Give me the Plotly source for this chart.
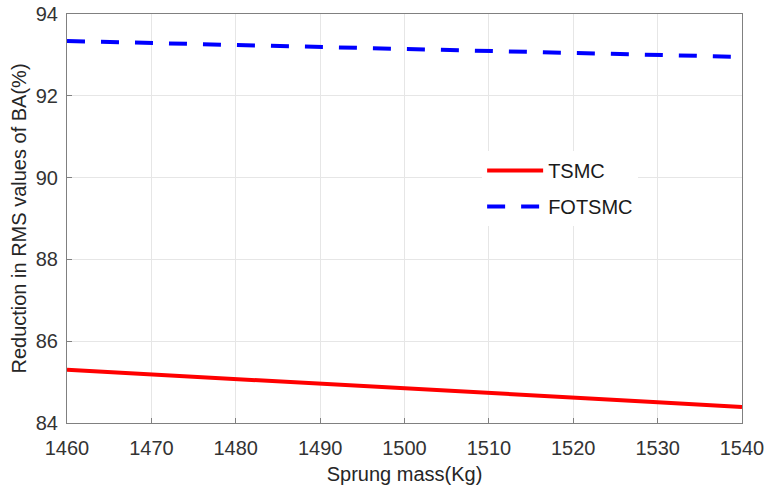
import plotly.graph_objects as go

mass = [1460, 1470, 1480, 1490, 1500, 1510, 1520, 1530, 1540]
tsmc = [85.30, 85.19, 85.08, 84.97, 84.86, 84.74, 84.62, 84.51, 84.39]
fotsmc = [93.34, 93.29, 93.24, 93.19, 93.14, 93.09, 93.04, 92.99, 92.95]
xticks = [1460, 1470, 1480, 1490, 1500, 1510, 1520, 1530, 1540]
yticks = [84, 86, 88, 90, 92, 94]

FONT = "Liberation Sans, Arial"

fig = go.Figure()
fig.add_trace(go.Scatter(x=mass, y=tsmc, mode="lines", name="TSMC", legendgroup="a",
                         line=dict(color="#ff0000", width=4)))
fig.add_trace(go.Scatter(x=mass, y=fotsmc, mode="lines", name="FOTSMC", legendgroup="b",
                         line=dict(color="#0000ff", width=4, dash="18px,16px")))

axis_common = dict(showline=True, linecolor="#808080", linewidth=1, mirror=True,
                   showgrid=True, gridcolor="#e6e6e6", gridwidth=1,
                   ticks="inside", ticklen=5, tickcolor="#808080",
                   tickfont=dict(family=FONT, size=20, color="#333333"),
                   zeroline=False, automargin=False)

fig.update_layout(
    width=768, height=491,
    margin=dict(l=67, r=26, t=14, b=68),
    paper_bgcolor="white", plot_bgcolor="white",
    xaxis=dict(range=[1460, 1540], tickvals=xticks, ticklabelstandoff=7,
               title=dict(text="Sprung mass(Kg)", standoff=8,
                          font=dict(family=FONT, size=20, color="#262626")),
               **axis_common),
    yaxis=dict(range=[84, 94], tickvals=yticks, ticklabelstandoff=4,
               title=dict(text="Reduction in RMS values of BA(%)", standoff=3,
                          font=dict(family=FONT, size=20, color="#262626")),
               **axis_common),
    legend=dict(x=0.615, y=0.665, xanchor="left", yanchor="top",
                bgcolor="white", borderwidth=0, traceorder="grouped",
                font=dict(family=FONT, size=20, color="#1a1a1a"),
                itemwidth=56, tracegroupgap=7),
    showlegend=True,
)

fig.write_html("out.html")
